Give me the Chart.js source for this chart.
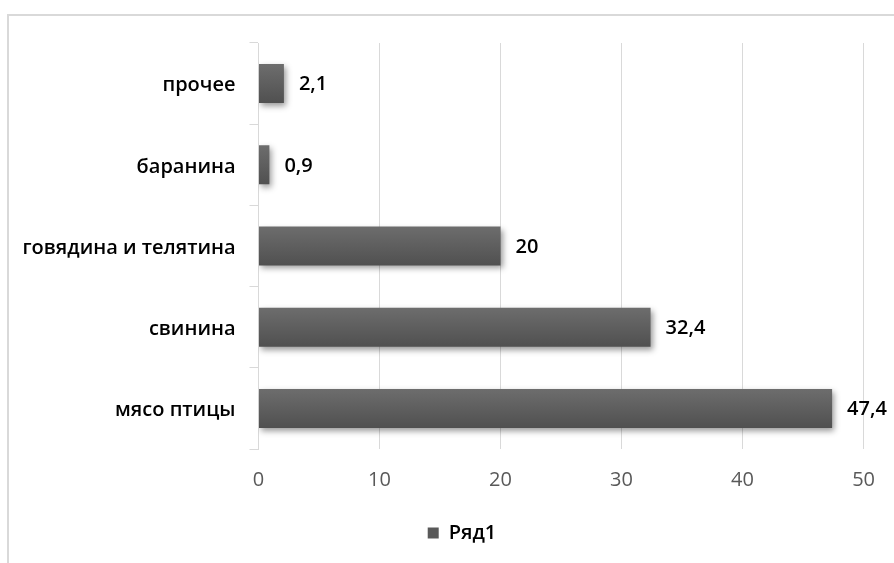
<!DOCTYPE html>
<html>
<head>
<meta charset="utf-8">
<script src="https://cdn.jsdelivr.net/npm/chart.js@4/dist/chart.umd.min.js"></script>
<style>
  html, body { margin: 0; padding: 0; background: #fff; overflow: hidden; }
  #wrap { position: relative; width: 894px; height: 563px; }
  #frame { position: absolute; left: 7px; top: 14px; width: 920px; height: 600px;
           border: 2px solid #d9d9d9; box-sizing: border-box; }
  canvas { position: absolute; left: 0; top: 0; }
</style>
</head>
<body>
<div id="wrap">
  <div id="frame"></div>
  <canvas id="c" width="894" height="563"></canvas>
</div>
<script>
// Meat consumption structure, %
const categories = ['прочее', 'баранина', 'говядина и телятина', 'свинина', 'мясо птицы'];
const values = [2.1, 0.9, 20, 32.4, 47.4];
const seriesName = 'Ряд1';
const xTicks = [0, 10, 20, 30, 40, 50];

const FONT = '"Open Sans", "DejaVu Sans", sans-serif';
const fmt = v => String(v).replace('.', ',');
const CAT_PCT = 0.5, BAR_PCT = 0.96;

// Vertical gradient for each bar, centred on its category
function barFill(ctx) {
  const chart = ctx.chart;
  const ys = chart.scales && chart.scales.y;
  if (!ys || !chart.chartArea || ctx.dataIndex === undefined) return '#5a5a5a';
  const cy = ys.getPixelForValue(ctx.dataIndex);
  const band = (ys.bottom - ys.top) / categories.length;
  const h = band * CAT_PCT * BAR_PCT;
  if (!isFinite(cy) || !isFinite(h)) return '#5a5a5a';
  const g = chart.ctx.createLinearGradient(0, cy - h / 2, 0, cy + h / 2);
  g.addColorStop(0, '#6d6d6d');
  g.addColorStop(1, '#505050');
  return g;
}

// Soft drop shadow under the bars
const barShadow = {
  id: 'barShadow',
  beforeDatasetsDraw(chart) {
    const c = chart.ctx;
    c.save();
    c.shadowColor = 'rgba(0,0,0,0.4)';
    c.shadowBlur = 6;
    c.shadowOffsetX = 2;
    c.shadowOffsetY = 3;
  },
  afterDatasetsDraw(chart) {
    chart.ctx.restore();
  }
};

// Value labels to the right of each bar
const valueLabels = {
  id: 'valueLabels',
  afterDatasetsDraw(chart) {
    const c = chart.ctx;
    const meta = chart.getDatasetMeta(0);
    c.save();
    c.font = '600 20px ' + FONT;
    c.fillStyle = '#000';
    c.textAlign = 'left';
    c.textBaseline = 'middle';
    meta.data.forEach((bar, i) => {
      const v = chart.data.datasets[0].data[i];
      c.fillText(fmt(v), bar.x + 15, bar.y + 1);
    });
    c.restore();
  }
};

// Centre the legend under the plot rather than under the whole canvas
const legendShift = {
  id: 'legendShift',
  afterLayout(chart) {
    if (chart.legend) chart.legend.left += 60;
  }
};

new Chart(document.getElementById('c'), {
  type: 'bar',
  data: {
    labels: categories,
    datasets: [{
      label: seriesName,
      data: values,
      backgroundColor: barFill,
      borderWidth: 0,
      barPercentage: BAR_PCT,
      categoryPercentage: CAT_PCT
    }]
  },
  options: {
    indexAxis: 'y',
    responsive: false,
    animation: false,
    devicePixelRatio: 1,
    layout: { padding: { top: 43, right: 30, left: 0, bottom: 10 } },
    scales: {
      x: {
        min: 0, max: 50,
        afterBuildTicks(scale) { scale.ticks = xTicks.map(v => ({ value: v })); },
        afterFit(scale) { scale.height = 68; },
        grid: { color: '#d9d9d9', lineWidth: 1, drawTicks: false },
        border: { display: false },
        ticks: { color: '#595959', font: { family: FONT, size: 20 }, padding: 19 }
      },
      y: {
        afterFit(scale) { scale.width = 258.5; },
        grid: { drawOnChartArea: false, drawTicks: true, tickLength: 9, color: '#d9d9d9', offset: true },
        border: { display: true, color: '#d9d9d9', width: 1 },
        ticks: { color: '#000', font: { family: FONT, size: 20, weight: '600' }, padding: 14, labelOffset: 2 }
      }
    },
    plugins: {
      legend: {
        position: 'bottom',
        labels: {
          boxWidth: 11, boxHeight: 11,
          color: '#000',
          font: { family: FONT, size: 20, weight: '600' },
          padding: 6,
          generateLabels(chart) {
            return [{ text: seriesName, fillStyle: '#595959', strokeStyle: '#595959', lineWidth: 0, datasetIndex: 0 }];
          }
        }
      },
      tooltip: { enabled: false }
    }
  },
  plugins: [barShadow, valueLabels, legendShift]
});
</script>
</body>
</html>
